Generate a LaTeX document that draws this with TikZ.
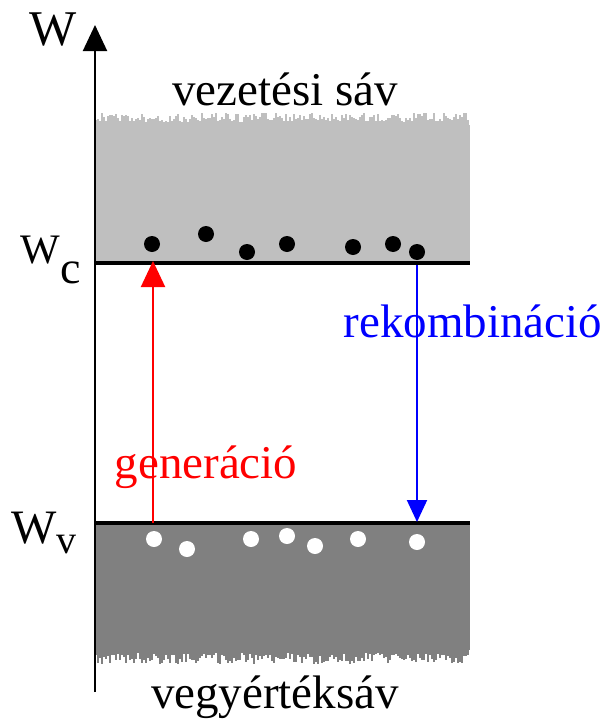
\documentclass[tikz,border=0pt]{standalone}
\usepackage{fontspec}
\setmainfont{Liberation Serif}
\usetikzlibrary{arrows.meta}

\begin{document}
\begin{tikzpicture}[x=1pt,y=-1pt,>={Triangle[width=24pt,length=26pt]},
  lbl/.style={inner sep=0pt,anchor=base,font=\fontsize{47}{52}\selectfont},
  electron/.style={circle,fill=black,minimum size=16pt,inner sep=0pt},
  hole/.style={circle,fill=white,minimum size=16pt,inner sep=0pt},
  edgeline/.style={line width=4pt}]
  \useasboundingbox (0,0) rectangle (607,720);
  \pgfmathsetseed{42}
  % conduction band
  \fill[gray!50] (95,125) rectangle (470,263);
  \foreach \i in {0,...,186}{
    \pgfmathsetmacro{\h}{3+9*rnd}
    \fill[gray!50] (95+2*\i,125) rectangle (97+2*\i,125-\h);
  }
  % valence band
  \fill[gray] (95,523) rectangle (470,650);
  \foreach \i in {0,...,186}{
    \pgfmathsetmacro{\h}{3+11*rnd}
    \fill[gray] (95+2*\i,650) rectangle (97+2*\i,650+\h);
  }
  % band edges
  \coordinate (c0) at (95,263);
  \coordinate (c1) at (470,263);
  \coordinate (v0) at (95,523);
  \coordinate (v1) at (470,523);
  \draw[edgeline] (c0) -- (c1);
  \draw[edgeline] (v0) -- (v1);
  % energy axis
  \coordinate (o) at (95,692);
  \coordinate (top) at (95,25);
  \draw[line width=2pt,->] (o) -- (top);
  \node[lbl,anchor=base west,font=\fontsize{50}{52}\selectfont] (w) at (29,45) {W};
  \node[lbl,anchor=base west,font=\fontsize{42}{46}\selectfont] (wc) at (20,263)
    {W\kern1pt\raisebox{-20pt}{\fontsize{46}{46}\selectfont c}};
  \node[lbl,anchor=base west,font=\fontsize{48}{50}\selectfont] (wv) at (11,543)
    {W\kern0pt\raisebox{-10pt}{\fontsize{40}{40}\selectfont v}};
  % band names
  \node[lbl] (cb) at (285,105) {vezetési sáv};
  \node[lbl] (vb) at (275,708) {vegyértéksáv};
  % electrons
  \foreach \x/\y [count=\k] in {152/244,206/234,247/252,287/244,353/247,393/244,417/252}
    \node[electron] (e\k) at (\x,\y) {};
  % holes
  \foreach \x/\y [count=\k] in {154/539,187/549,251/539,287/536,315/546,358/539,417/542}
    \node[hole] (h\k) at (\x,\y) {};
  % generation
  \coordinate (g0) at (153,523);
  \coordinate (g1) at (153,261);
  \draw[red,line width=2pt,->] (g0) -- (g1);
  \node[lbl,red] (gen) at (206,478) {generáció};
  % recombination
  \coordinate (r0) at (417,265);
  \coordinate (r1) at (417,522);
  \draw[blue,line width=2pt,->,>={Triangle[width=20pt,length=22pt]}] (r0) -- (r1);
  \node[lbl,blue] (rek) at (473,337) {rekombináció};
\end{tikzpicture}
\end{document}
